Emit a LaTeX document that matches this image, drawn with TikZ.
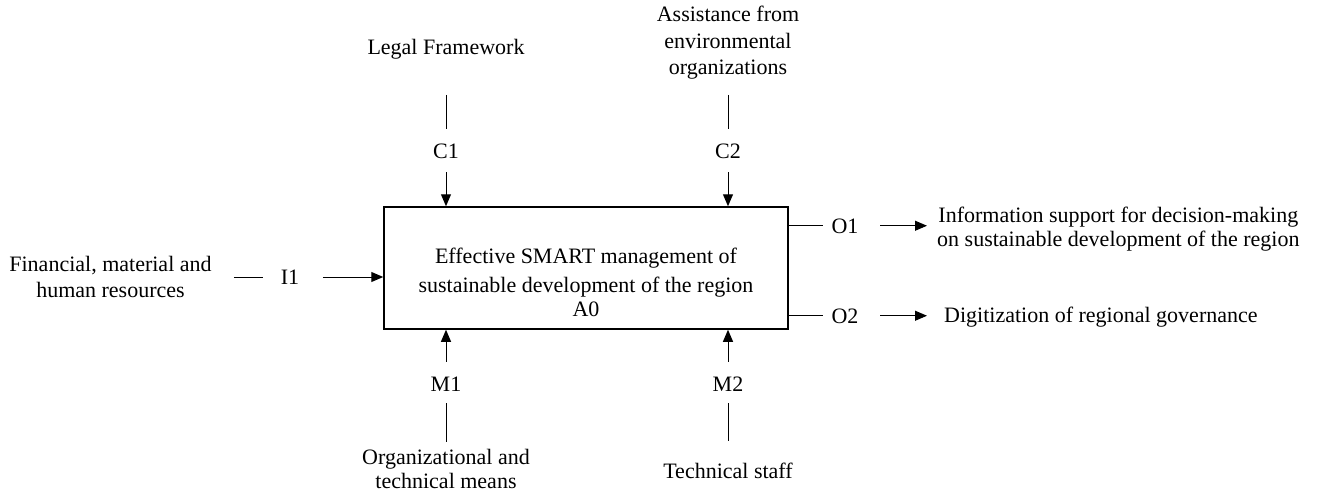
\documentclass[tikz,border=0pt]{standalone}
\usepackage{fontspec}
\setmainfont{Liberation Serif}
\usetikzlibrary{arrows.meta}
\begin{document}
\begin{tikzpicture}[x=1pt,y=-1pt,
  txt/.style={inner sep=0pt,font=\fontsize{22}{26.5}\selectfont,align=center},
  lbl/.style={inner sep=0pt,font=\fontsize{22}{26.5}\selectfont,text height=14.5pt,text depth=0pt,anchor=base},
  ln/.style={line width=1pt},
  arr/.style={line width=1pt,-{Triangle[length=12pt,width=10pt]}},
  box/.style={draw,line width=1.5pt,minimum width=404pt,minimum height=122pt,inner sep=0pt}]
\useasboundingbox (0,0) rectangle (1317,492);
% main box
\node[box] (a0) at (586,268) {};
\node[txt,anchor=base,font=\fontsize{22}{29}\selectfont] (a0t) at (586,316)
  {Effective SMART management of\\sustainable development of the region\\[-5pt]A0};
% controls
\node[txt,anchor=base] (lf) at (446,55) {Legal Framework};
\node[txt,anchor=base] (ae) at (728,75) {Assistance from\\environmental\\organizations};
\node[lbl] (c1) at (446,159) {C1};
\node[lbl] (c2) at (728,159) {C2};
\draw[ln,shorten <=35pt,shorten >=15.5pt] (lf.south) -- (c1.north);
\draw[ln,shorten <=15pt,shorten >=15.5pt] (ae.south) -- (c2.north);
\draw[arr,shorten <=13pt] (c1.south) -- (c1.south |- a0.north);
\draw[arr,shorten <=13pt] (c2.south) -- (c2.south |- a0.north);
% mechanisms
\node[lbl] (m1) at (446,391) {M1};
\node[lbl] (m2) at (728,391) {M2};
\node[txt,anchor=base,font=\fontsize{22}{24}\selectfont] (om) at (446,488) {Organizational and\\technical means};
\node[txt,anchor=base] (ts) at (728,478) {Technical staff};
\draw[arr,shorten <=14.5pt] (m1.north) -- (m1.north |- a0.south);
\draw[arr,shorten <=14.5pt] (m2.north) -- (m2.north |- a0.south);
\draw[ln,shorten <=12pt,shorten >=7pt] (m1.south) -- (om.north);
\draw[ln,shorten <=12pt,shorten >=21pt] (m2.south) -- (ts.north);
% input
\node[txt,anchor=base,font=\fontsize{22}{26}\selectfont] (fin) at (110.5,297) {Financial, material and\\human resources};
\node[lbl] (i1) at (290,284.25) {I1};
\draw[ln,shorten <=22pt,shorten >=18pt] (fin.east |- i1) -- (i1.west);
\draw[arr,shorten <=23.6pt] (i1.east) -- (i1 -| a0.west);
% outputs
\node[lbl] (o1) at (845,233) {O1};
\node[lbl] (o2) at (845,323) {O2};
\node[txt,anchor=base west,font=\fontsize{22}{24}\selectfont] (info) at (937,246)
  {Information support for decision-making\\on sustainable development of the region};
\node[txt,anchor=base west] (dig) at (944,322) {Digitization of regional governance};
\draw[ln,shorten >=8.6pt] (a0.east |- o1) -- (o1.west);
\draw[arr,shorten <=21.6pt,shorten >=10pt] (o1.east) -- (o1 -| info.west);
\draw[ln,shorten >=8.6pt] (a0.east |- o2) -- (o2.west);
\draw[arr,shorten <=21.6pt,shorten >=17pt] (o2.east) -- (o2 -| dig.west);
\end{tikzpicture}
\end{document}
